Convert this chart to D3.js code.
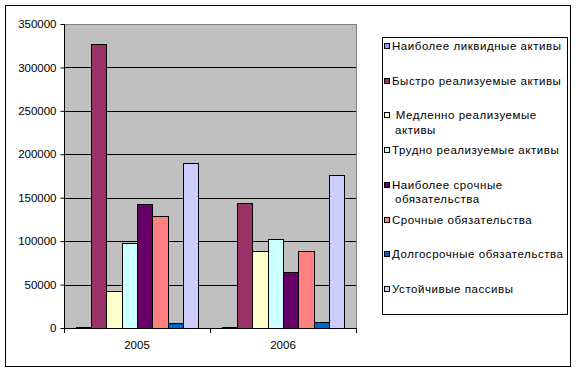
<!DOCTYPE html>
<html><head><meta charset="utf-8">
<script src="https://cdn.jsdelivr.net/npm/d3@7"></script>
<style>
html,body{margin:0;padding:0;background:#fff;}
svg{display:block;font-family:"Liberation Sans",Arial,sans-serif;}
</style></head>
<body><svg id="c" width="587" height="372"></svg>
<script>
const categories = ["2005", "2006"];
const seriesNames = [
  ["Наиболее ликвидные активы"],
  ["Быстро реализуемые активы"],
  [" Медленно реализуемые", "активы"],
  ["Трудно реализуемые активы"],
  ["Наиболее срочные", "обязательства"],
  ["Срочные обязательства"],
  ["Долгосрочные обязательства"],
  ["Устойчивые пассивы"]
];
const values2005 = [1000, 327000, 43000, 97500, 142500, 128500, 6000, 190500];
const values2006 = [1000, 143500, 89000, 103000, 65000, 89000, 7300, 175800];
const colors = ["#9999FF", "#993366", "#FFFFCC", "#CCFFFF", "#660066", "#FF8080", "#0066CC", "#CCCCFF"];
const yTicks = [0, 50000, 100000, 150000, 200000, 250000, 300000, 350000];

const svg = d3.select("#c");
// outer border
svg.append("rect").attr("x", 5.5).attr("y", 5.5).attr("width", 565).attr("height", 361)
  .attr("fill", "#fff").attr("stroke", "#000").attr("stroke-width", 1);

const L = 64, R = 356, T = 24, B = 328;
const x = d3.scaleBand().domain(categories).range([L, R]).paddingInner(0).paddingOuter(0);
const y = d3.scaleLinear().domain([0, 350000]).range([B, T]);
const nS = seriesNames.length;
const bw = x.bandwidth() / (nS + 1.5);
const xs = d3.scaleBand().domain(d3.range(nS)).range([bw * 0.75, x.bandwidth() - bw * 0.75]).padding(0);

// plot area
svg.append("rect").attr("x", L).attr("y", T).attr("width", R - L).attr("height", B - T)
  .attr("fill", "#C0C0C0").attr("stroke", "#808080").attr("stroke-width", 1)
  .attr("shape-rendering", "crispEdges");

// gridlines
svg.append("g").selectAll("line").data(yTicks.filter(t => t > 0 && t < 350000)).join("line")
  .attr("x1", L).attr("x2", R).attr("y1", d => Math.round(y(d)) + 0.5).attr("y2", d => Math.round(y(d)) + 0.5)
  .attr("stroke", "#000").attr("stroke-width", 1);

// bars
const data = [values2005, values2006];
categories.forEach((c, ci) => {
  svg.append("g").selectAll("rect").data(data[ci]).join("rect")
    .attr("x", (d, i) => Math.round(x(c) + xs(i)) + 0.5)
    .attr("width", (d, i) => Math.round(x(c) + xs(i) + xs.bandwidth()) - Math.round(x(c) + xs(i)))
    .attr("y", d => Math.round(y(d)) + 0.5)
    .attr("height", d => Math.max(0, Math.round(B) - Math.round(y(d))))
    .attr("fill", (d, i) => colors[i]).attr("stroke", "#000").attr("stroke-width", 1);
});

// y axis
const ya = svg.append("g").attr("transform", `translate(${L + 0.5},0)`)
  .call(d3.axisLeft(y).tickValues(yTicks).tickSize(4).tickPadding(4).tickFormat(d3.format("d")));
ya.select(".domain").attr("stroke", "#000").attr("d", `M0,${T}V${B + 0.5}`);
ya.selectAll(".tick line").attr("stroke", "#000");
ya.selectAll("text").attr("font-size", 11.5).attr("fill", "#000").attr("font-family", "Liberation Sans, Arial, sans-serif");

// x axis
const xa = svg.append("g").attr("transform", `translate(0,${B + 0.5})`)
  .call(d3.axisBottom(x).tickSize(0).tickPadding(12));
xa.select(".domain").attr("stroke", "#000").attr("d", `M${L},0H${R}`);
xa.selectAll("text").attr("font-size", 11.5).attr("fill", "#000").attr("font-family", "Liberation Sans, Arial, sans-serif");
// category boundary ticks
svg.append("g").selectAll("line").data([L, L + x.bandwidth(), R]).join("line")
  .attr("x1", d => Math.round(d) + 0.5).attr("x2", d => Math.round(d) + 0.5)
  .attr("y1", B).attr("y2", B + 5).attr("stroke", "#000");

// legend
const lg = svg.append("g");
lg.append("rect").attr("x", 382.5).attr("y", 37.5).attr("width", 185).attr("height", 277)
  .attr("fill", "#fff").attr("stroke", "#000");
const ly = d3.scaleLinear().domain([0, nS - 1]).range([46, 289]);
seriesNames.forEach((lines, i) => {
  const yy = ly(i);
  lg.append("rect").attr("x", 384.5).attr("y", Math.round(yy) - 2.5).attr("width", 5).attr("height", 5)
    .attr("fill", colors[i]).attr("stroke", "#000");
  lines.forEach((t, j) => {
    lg.append("text").attr("x", j === 0 ? 392 : 395).attr("y", yy + j * 14.5)
      .attr("dy", "0.35em").attr("font-size", 11.5).attr("letter-spacing", 0.55).attr("fill", "#000")
      .attr("xml:space", "preserve").style("white-space", "pre").text(t);
  });
});
</script></body></html>
